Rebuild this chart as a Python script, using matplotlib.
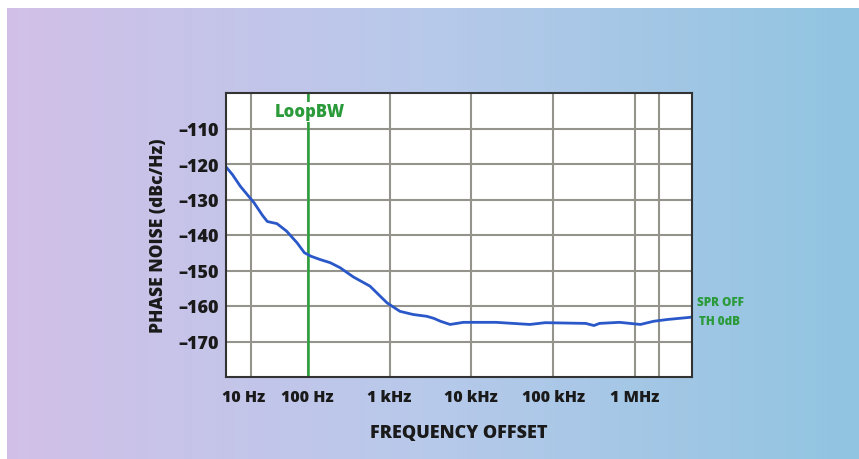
import numpy as np
import matplotlib
matplotlib.use("Agg")
import matplotlib.pyplot as plt
from matplotlib.colors import LinearSegmentedColormap
from matplotlib.patches import Rectangle
from matplotlib.transforms import ScaledTranslation

# measured phase noise trace
freq_hz = [10, 12, 15, 22, 28, 32, 42, 55, 74, 91, 110, 141, 188, 248, 360,
           576, 930, 1340, 1950, 2850, 3500, 4200, 5500, 8000, 20000, 52000,
           80000, 250000, 316000, 370000, 650000, 1170000, 1700000, 2500000,
           4700000, 5000000]
noise_dbc = [-120.8, -123.0, -126.3, -130.9, -134.5, -136.2, -136.8, -138.9,
             -142.2, -145.0, -146.0, -146.9, -147.8, -149.2, -151.8, -154.4,
             -159.1, -161.5, -162.4, -162.9, -163.5, -164.3, -165.2, -164.6,
             -164.6, -165.2, -164.7, -164.9, -165.5, -164.9, -164.6, -165.2,
             -164.3, -163.8, -163.2, -163.1]

loop_bw_hz = 100
xtick_vals = [10, 100, 1e3, 1e4, 1e5, 1e6]
xtick_labels = ["10 Hz", "100 Hz", "1 kHz", "10 kHz", "100 kHz", "1 MHz"]
xgrid_vals = [20, 100, 1e3, 1e4, 1e5, 1e6, 2e6]
ytick_vals = [-110, -120, -130, -140, -150, -160, -170]

FONT = ["Open Sans", "DejaVu Sans"]
plt.rcParams["font.family"] = FONT
plt.rcParams["font.weight"] = "bold"
INK = "#1a1a1a"
GREEN = "#2a9a3a"

fig = plt.figure(figsize=(8.59, 4.6), dpi=100, facecolor=(0.72, 0.79, 0.92))

# gradient page background
bg = fig.add_axes([0, 0, 1, 1], zorder=0)
cmap = LinearSegmentedColormap.from_list(
    "page", [(0.83, 0.75, 0.91), (0.72, 0.79, 0.92), (0.56, 0.77, 0.88)])
bg.imshow(np.linspace(0, 1, 256)[None, :], aspect="auto", cmap=cmap,
          extent=[-0.02, 1.02, -0.02, 1.02])
bg.add_patch(Rectangle((0, 1 - 9 / 460), 1, 0.05, color="white", lw=0))
bg.add_patch(Rectangle((-0.01, 0), 7 / 859 + 0.01, 1, color="white", lw=0))
bg.set_xlim(0, 1)
bg.set_ylim(0, 1)
bg.axis("off")

ax = fig.add_axes([226 / 859, 1 - 378 / 460, 466 / 859, 284 / 460], zorder=1)
ax.set_facecolor("white")
ax.set_xscale("log")
ax.set_xlim(10, 5e6)
ax.set_ylim(-180, -100)

for g in xgrid_vals:
    ax.axvline(g, color="#94948c", lw=1.5, zorder=1)
for g in ytick_vals:
    ax.axhline(g, color="#94948c", lw=1.5, zorder=1)

ax.plot(freq_hz, noise_dbc, color="#2a58c8", lw=2.0, zorder=3)
ax.axvline(loop_bw_hz, color="#2aa03a", lw=1.8, zorder=2)
ax.text(loop_bw_hz * 1.05, -105.3, "LoopBW", color=GREEN, fontsize=12,
        fontweight="heavy", ha="center", va="center", zorder=4,
        bbox=dict(facecolor="white", edgecolor="none", pad=1))

ax.set_xticks(xtick_vals)
ax.set_xticklabels(xtick_labels)
ax.xaxis.set_minor_locator(matplotlib.ticker.NullLocator())
ax.set_yticks(ytick_vals)
ax.set_yticklabels([f"\u2013{abs(v)}" for v in ytick_vals])
ax.tick_params(axis="x", length=0, pad=9, labelsize=11.5)
ax.tick_params(axis="y", length=0, pad=5, labelsize=13)
first = ax.get_xticklabels()[0]
first.set_horizontalalignment("left")
first.set_transform(first.get_transform()
                    + ScaledTranslation(-4 / 100, 0, fig.dpi_scale_trans))
for lab in ax.get_xticklabels() + ax.get_yticklabels():
    lab.set_fontweight("heavy")
    lab.set_color(INK)

for s in ax.spines.values():
    s.set_color("#333333")
    s.set_linewidth(1.5)
    s.set_zorder(5)

ax.set_xlabel("FREQUENCY OFFSET", fontsize=13, fontweight="heavy",
              color=INK, labelpad=13)
ax.set_ylabel("PHASE NOISE (dBc/Hz)", fontsize=12.5, fontweight="heavy",
              color=INK, labelpad=8)

fig.text(697 / 859, 1 - 303 / 460, "SPR OFF", color=GREEN, fontsize=8.5,
         fontweight="heavy", ha="left", va="center")
fig.text(699 / 859, 1 - 322 / 460, "TH 0dB", color=GREEN, fontsize=8.5,
         fontweight="heavy", ha="left", va="center")

fig.savefig("out.png", dpi=100, facecolor=fig.get_facecolor())
